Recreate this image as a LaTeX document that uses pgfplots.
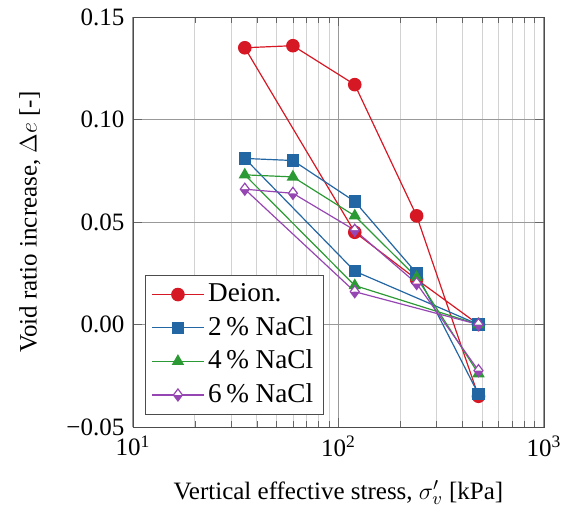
\documentclass[border=0pt]{standalone}
\usepackage{fontspec}
\setmainfont{Liberation Serif}
\usepackage{pgfplots}
\pgfplotsset{compat=1.18}
\usetikzlibrary{plotmarks}

\definecolor{cred}{RGB}{214,24,36}
\definecolor{cblue}{RGB}{34,102,164}
\definecolor{cgreen}{RGB}{44,154,52}
\definecolor{cpurple}{RGB}{150,70,178}

\begin{document}
\fontsize{12.5}{15}\selectfont
\begin{tikzpicture}
\begin{axis}[
    xmode=log, scale only axis,
    width=205.5pt, height=205pt,
    xmin=10, xmax=1000, ymin=-0.05, ymax=0.15,
    xtick={10,100,1000},
    xticklabels={10\textsuperscript{1},10\textsuperscript{2},10\textsuperscript{3}},
    ytick={-0.05,0,0.05,0.1,0.15},
    yticklabels={−0.05,0.00,0.05,0.10,0.15},
    grid=both,
    major grid style={gray!80, line width=0.5pt},
    minor grid style={gray!35, line width=0.4pt},
    axis line style={black!70},
    tick style={black!60},
    xlabel={Vertical effective stress, $\sigma'_v$ [kPa]},
    ylabel={Void ratio increase, $\Delta e$ [-]},
    xlabel style={yshift=-3.5pt},
    ylabel style={yshift=4.5pt},
    legend cell align=left,
    legend style={at={(0.03,0.03)}, anchor=south west, draw=black!70,
        row sep=1.5pt, font=\rmfamily\fontsize{13.6}{16}\selectfont},
    legend image code/.code={
        \draw[mark repeat=2, mark phase=2] plot coordinates {(0cm,0cm) (0.45cm,0cm) (0.9cm,0cm)};
    },
]
% Deion.
\addplot[cred, line width=0.6pt, mark=*, mark size=3.1pt] coordinates {
    (480,0) (240,0.022) (120,0.045) (35,0.135) (60,0.136) (120,0.117) (240,0.053) (480,-0.035)
};
% 2 % NaCl
\addplot[cblue, line width=0.6pt, mark=square*, mark size=2.8pt] coordinates {
    (480,0) (120,0.026) (35,0.081) (60,0.080) (120,0.060) (240,0.025) (480,-0.034)
};
% 4 % NaCl
\addplot[cgreen, line width=0.6pt, mark=triangle*, mark size=3pt] coordinates {
    (480,0) (120,0.019) (35,0.073) (60,0.072) (120,0.053) (240,0.023) (480,-0.024)
};
% 6 % NaCl
\addplot[cpurple, line width=0.6pt, mark=halfdiamond*, mark size=3pt,
    mark options={fill=cpurple, mark color=white}] coordinates {
    (480,0) (120,0.016) (35,0.066) (60,0.064) (120,0.046) (240,0.020) (480,-0.0225)
};
\legend{Deion., 2\,\% NaCl, 4\,\% NaCl, 6\,\% NaCl}
\end{axis}
\path[use as bounding box] (current axis.south west) ++(-66.5pt,-41pt) rectangle ++(287.5pt,254.5pt);
\end{tikzpicture}
\end{document}
